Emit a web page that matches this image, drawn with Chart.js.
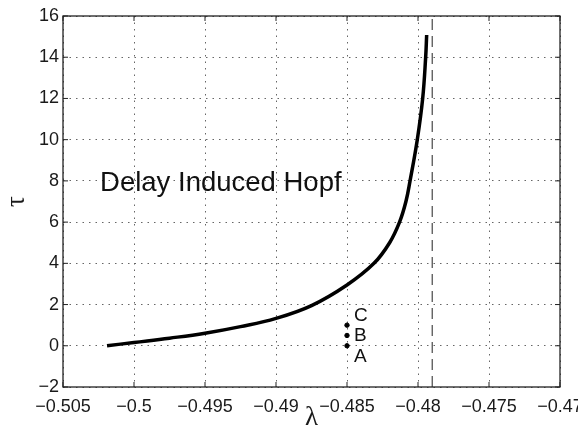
<!DOCTYPE html>
<html>
<head>
<meta charset="utf-8">
<script src="https://cdn.jsdelivr.net/npm/chart.js@4"></script>
<style>
  html, body { margin: 0; padding: 0; background: #fff; }
  #wrap { width: 578px; height: 439px; }
</style>
</head>
<body>
<div id="wrap"><canvas id="myChart" width="578" height="439"></canvas></div>
<script>
// curve: lambda vs tau
const lambdaVals = [-0.5019, -0.5, -0.4975, -0.495, -0.4925, -0.49, -0.4875, -0.485, -0.4831, -0.482, -0.4813, -0.48085, -0.48056, -0.48005, -0.47967, -0.47946, -0.47939]
const tauVals = [0, 0.16, 0.37, 0.61, 0.93, 1.33, 1.95, 2.95, 4, 5, 6, 7, 8, 10, 12, 14, 15.08]

// vertical dashed asymptote
const boundaryLambda = -0.479
const boundaryTau = [-2, 16]

// marked points A, B, C
const pointNames = ['A', 'B', 'C']
const pointLambda = [-0.485, -0.485, -0.485]
const pointTau = [0, 0.5, 1]

const xTicks = [-0.505, -0.5, -0.495, -0.49, -0.485, -0.48, -0.475, -0.47]
const xTickLabels = ['\u22120.505', '\u22120.5', '\u22120.495', '\u22120.49', '\u22120.485', '\u22120.48', '\u22120.475', '\u22120.47']
const yTicks = [-2, 0, 2, 4, 6, 8, 10, 12, 14, 16]

const annotation = 'Delay Induced Hopf'

Chart.defaults.font.family = "'Liberation Sans', Arial, sans-serif"
Chart.defaults.color = '#1a1a1a'

const boxAndText = {
    id: 'boxAndText',
    afterDatasetsDraw(chart) {
        const { ctx, chartArea: a, scales: { x, y } } = chart
        ctx.save()
        ctx.strokeStyle = '#222'
        ctx.lineWidth = 1.3
        ctx.strokeRect(a.left, a.top, a.right - a.left, a.bottom - a.top)
        // inner tick marks on all four sides
        ctx.lineWidth = 1
        ctx.beginPath()
        xTicks.forEach(v => {
            const px = x.getPixelForValue(v)
            ctx.moveTo(px, a.bottom); ctx.lineTo(px, a.bottom - 5)
            ctx.moveTo(px, a.top); ctx.lineTo(px, a.top + 5)
        })
        yTicks.forEach(v => {
            const py = y.getPixelForValue(v)
            ctx.moveTo(a.left, py); ctx.lineTo(a.left + 5, py)
            ctx.moveTo(a.right, py); ctx.lineTo(a.right - 5, py)
        })
        ctx.stroke()

        ctx.fillStyle = '#111'
        ctx.textBaseline = 'middle'
        ctx.textAlign = 'left'
        ctx.font = "27.5px 'Liberation Sans', Arial, sans-serif"
        ctx.fillText(annotation, x.getPixelForValue(-0.50239), y.getPixelForValue(7.9))

        ctx.font = "19px 'Liberation Sans', Arial, sans-serif"
        const labelTau = [-0.52, 0.5, 1.47]
        pointNames.forEach((n, i) => {
            ctx.fillText(n, x.getPixelForValue(-0.48451), y.getPixelForValue(labelTau[i]))
        })
        ctx.restore()
    }
}

const ctx = document.getElementById('myChart').getContext('2d')

const data = {
    datasets: [
        {
            label: 'boundary',
            data: boundaryTau.map(t => ({ x: boundaryLambda, y: t })),
            borderColor: '#222',
            borderWidth: 1,
            borderDash: [11, 6],
            pointRadius: 0,
            showLine: true,
        },
        {
            label: 'curve',
            data: lambdaVals.map((l, i) => ({ x: l, y: tauVals[i] })),
            borderColor: '#000',
            borderWidth: 3.5,
            pointRadius: 0,
            showLine: true,
            tension: 0.4,
            borderCapStyle: 'butt',
        },
        {
            label: 'points',
            data: pointLambda.map((l, i) => ({ x: l, y: pointTau[i] })),
            backgroundColor: '#000',
            borderColor: '#000',
            pointRadius: 2.2,
            showLine: false,
        },
    ],
}

const gridStyle = {
    color: '#666',
    lineWidth: 1,
    drawTicks: false,
}

const myChart = new Chart(ctx, {
    type: 'scatter',
    data: data,
    plugins: [boxAndText],
    options: {
        responsive: false,
        animation: false,
        events: [],
        layout: { padding: { left: 0, top: 16, right: 18, bottom: 0 }, autoPadding: false },
        plugins: { legend: { display: false }, tooltip: { enabled: false } },
        scales: {
            x: {
                type: 'linear',
                min: -0.505,
                max: -0.47,
                afterBuildTicks: s => { s.ticks = xTicks.map(v => ({ value: v })) },
                afterFit: s => {
                    s.height = 52
                    s.paddingLeft = 0
                    s.paddingRight = 0
                },
                ticks: {
                    padding: 9,
                    maxRotation: 0,
                    autoSkip: false,
                    font: { size: 18 },
                    callback: (v, i) => xTickLabels[i],
                },
                grid: { ...gridStyle },
                border: { display: false, dash: [1.5, 5] },
                title: {
                    display: true,
                    text: '\u03bb',
                    font: { size: 27, family: "'Liberation Serif', serif" },
                    padding: { top: 5, bottom: 5 },
                },
            },
            y: {
                type: 'linear',
                min: -2,
                max: 16,
                afterBuildTicks: s => { s.ticks = yTicks.map(v => ({ value: v })) },
                afterFit: s => {
                    s.width = 63
                    s.paddingTop = 0
                    s.paddingBottom = 0
                },
                ticks: {
                    padding: 4,
                    autoSkip: false,
                    font: { size: 18 },
                    callback: v => (v < 0 ? '\u2212' + Math.abs(v) : String(v)),
                },
                grid: { ...gridStyle },
                border: { display: false, dash: [1.5, 5] },
                title: {
                    display: true,
                    text: '\u03c4',
                    font: { size: 27, family: "'Liberation Serif', serif" },
                    padding: { top: 1, bottom: 1 },
                },
            },
        },
    },
})
</script>
</body>
</html>
